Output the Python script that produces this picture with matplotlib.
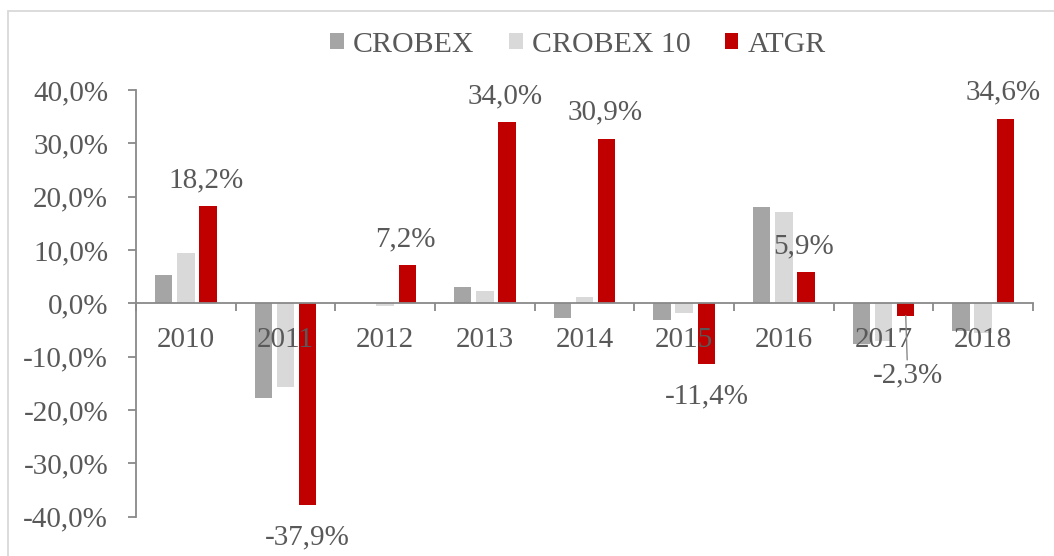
import matplotlib.pyplot as plt
import matplotlib.patches as patches
import numpy as np

# Data
years = ['2010', '2011', '2012', '2013', '2014', '2015', '2016', '2017', '2018']
crobex = [5.3, -17.7, 0.0, 3.1, -2.7, -3.2, 18.1, -7.6, -5.1]
crobex10 = [9.4, -15.6, -0.5, 2.3, 1.2, -1.8, 17.1, -7.1, -5.6]
atgr = [18.2, -37.9, 7.2, 34.0, 30.9, -11.4, 5.9, -2.3, 34.6]

plt.rcParams['font.family'] = ['Liberation Serif', 'DejaVu Serif']
txt_col = '#595959'
ax_col = '#898989'
fs = 21

fig = plt.figure(figsize=(10.54, 5.56), dpi=100)
ax = fig.add_axes([136/1054, 1 - 516.7/556, (1033 - 136)/1054, (516.7 - 90)/556])

x = np.arange(len(years))
w = 0.174
step = 0.223
ax.bar(x - step, crobex, w, color='#a5a5a5', label='CROBEX', zorder=2)
ax.bar(x, crobex10, w, color='#d9d9d9', label='CROBEX 10', zorder=2)
ax.bar(x + step, atgr, w, color='#c00000', label='ATGR', zorder=2)

ax.set_xlim(-0.5, 8.5)
ax.set_ylim(-40, 40)

# axes styling
for s in ['top', 'right']:
    ax.spines[s].set_visible(False)
ax.spines['left'].set_color(ax_col)
ax.spines['left'].set_linewidth(1.3)
ax.spines['bottom'].set_position(('data', 0))
ax.spines['bottom'].set_color(ax_col)
ax.spines['bottom'].set_linewidth(1.3)
ax.spines['bottom'].set_zorder(3)
ax.xaxis.set_zorder(4)

yt = np.arange(-40, 41, 10)
ax.set_yticks(yt)
ax.set_yticklabels([('%.1f%%' % v).replace('.', ',') for v in yt])
ax.tick_params(axis='y', length=6, width=1.3, color=ax_col, pad=14,
               labelsize=fs, labelcolor=txt_col)

ax.set_xticks(x)
ax.set_xticklabels(years)
ax.set_xticks(np.arange(-0.5, 9, 1), minor=True)
ax.tick_params(axis='x', which='major', length=0, pad=17, labelsize=fs, labelcolor=txt_col)
ax.tick_params(axis='x', which='minor', length=6, width=1.3, color=ax_col, direction='out')

# data labels for ATGR
for i, v in enumerate(atgr):
    lbl = ('%.1f%%' % v).replace('.', ',')
    xc = x[i] + step
    if years[i] == '2017':
        ax.annotate(lbl, (xc, v), xytext=(2, -60), textcoords='offset pixels',
                    ha='center', va='center', fontsize=fs, color=txt_col,
                    arrowprops=dict(arrowstyle='-', color=ax_col, lw=1,
                                    shrinkA=0, shrinkB=0), zorder=6)
    elif v >= 0:
        ax.annotate(lbl, (xc, v), xytext=(-2, 26), textcoords='offset pixels',
                    ha='center', va='center', fontsize=fs, color=txt_col, zorder=6)
    else:
        ax.annotate(lbl, (xc, v), xytext=(0, -32), textcoords='offset pixels',
                    ha='center', va='center', fontsize=fs, color=txt_col, zorder=6)

# legend
leg = fig.legend(loc='center', bbox_to_anchor=(578/1054, 1 - 45/556), ncol=3,
                 frameon=False, fontsize=21.5, handlelength=0.46, handleheight=0.46,
                 handletextpad=0.3, columnspacing=1.15, borderaxespad=0)
for t in leg.get_texts():
    t.set_color(txt_col)

# chart border
fig.patches.append(patches.Rectangle((8/1054, -0.1), 1.2, 1.1 - 11/556,
                                     transform=fig.transFigure, fill=False,
                                     edgecolor='#d9d9d9', linewidth=1.3))

plt.savefig('out.png', dpi=100)
